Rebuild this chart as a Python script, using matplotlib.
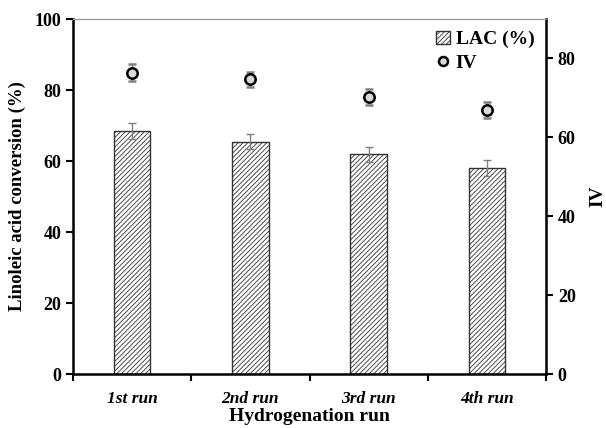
import numpy as np
import matplotlib
matplotlib.use("Agg")
import matplotlib.pyplot as plt
from matplotlib.patches import Patch
from matplotlib.lines import Line2D

plt.rcParams['font.family'] = ['Liberation Serif', 'DejaVu Serif']
plt.rcParams['font.weight'] = 'bold'
plt.rcParams['hatch.linewidth'] = 0.6
plt.rcParams['hatch.color'] = '#555555'

runs = ['1st run', '2nd run', '3rd run', '4th run']
lac = [68.5, 65.5, 61.9, 58.0]
lac_err = [2.3, 2.2, 2.2, 2.2]
iv = [76.4, 74.7, 70.3, 66.9]
iv_err = [2.1, 2.0, 2.0, 2.0]

x = np.arange(len(runs))

fig = plt.figure(figsize=(6.06, 4.28), dpi=100)
ax = fig.add_axes([0.1205, 0.126, 0.7805, 0.8295])
ax2 = ax.twinx()

ax.bar(x, lac, width=0.31, color='white', edgecolor='#333333', linewidth=1.0,
       hatch='///////', zorder=2)
ax.errorbar(x, lac, yerr=lac_err, fmt='none', ecolor='#808080', elinewidth=1,
            capsize=3, capthick=1, zorder=3)

ax2.errorbar(x, iv, yerr=iv_err, fmt='o', color='black', ecolor='#808080',
             elinewidth=1, capsize=3, capthick=1, markersize=7.5,
             markerfacecolor='#d9d9d9', markeredgecolor='black',
             markeredgewidth=1.8, zorder=4)

ax.set_xlim(-0.5, 3.5)
ax.set_ylim(0, 100)
ax2.set_ylim(0, 90)
ax.set_yticks([0, 20, 40, 60, 80, 100])
ax2.set_yticks([0, 20, 40, 60, 80])

ax.set_xticks(x)
ax.set_xticklabels(runs, fontsize=12.5, fontstyle='italic', fontweight='bold')
ax.set_xticks(np.arange(-0.5, 4.0, 1.0), minor=True)
ax.tick_params(axis='x', which='major', length=0, pad=12)
ax.tick_params(axis='x', which='minor', length=5, width=1.5, direction='out')
ax.tick_params(axis='y', length=5, width=1.5, direction='out', labelsize=13)
ax2.tick_params(axis='y', length=5, width=1.5, direction='out', labelsize=13)

for s in ['left', 'bottom']:
    ax.spines[s].set_linewidth(1.8)
ax2.spines['right'].set_linewidth(1.8)
ax2.spines['left'].set_visible(False)
ax2.spines['bottom'].set_visible(False)
ax.spines['right'].set_visible(False)
ax.spines['top'].set_color('#999999')
ax.spines['top'].set_linewidth(0.8)
ax2.spines['top'].set_color('#999999')
ax2.spines['top'].set_linewidth(0.8)

ax.set_ylabel('Linoleic acid conversion (%)', fontsize=13.5, fontweight='bold',
              labelpad=6)
ax.set_xlabel('Hydrogenation run', fontsize=14, fontweight='bold', labelpad=1)
ax2.set_ylabel('IV', fontsize=14, fontweight='bold', labelpad=10)

handles = [
    Patch(facecolor='white', edgecolor='#333333', hatch='///////', label='LAC (%)'),
    Line2D([], [], marker='o', linestyle='none', markersize=6.5,
           markerfacecolor='#d9d9d9', markeredgecolor='black',
           markeredgewidth=1.8, label='IV'),
]
ax2.legend(handles=handles, loc='upper right', frameon=False, fontsize=14,
           handlelength=0.7, handleheight=0.7, handletextpad=0.3,
           borderaxespad=0.2, labelspacing=0.3)

fig.savefig('out.png', dpi=100)
